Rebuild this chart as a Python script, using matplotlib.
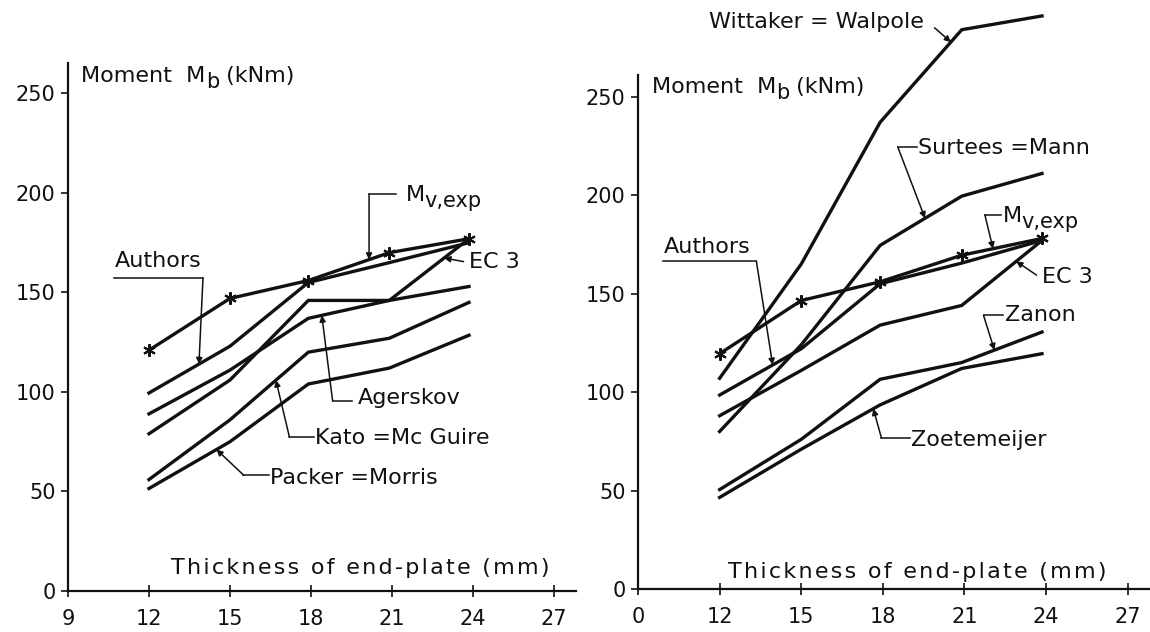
import matplotlib
import numpy as np

matplotlib.use("Agg")
import matplotlib.pyplot as plt  # noqa: E402

# ---- data (thickness in mm, moment in kNm) ----
thickness = [12, 15, 17.9, 20.9, 23.85]

# left panel
mv_exp_L = [121, 147, 156, 170, 177]
authors_L = [99.5, 123, 155, 165, 175]
agerskov_L = [89, 111, 137, 146, 153]
ec3_L = [79, 106, 146, 146, 177]
kato_L = [56, 86, 120, 127, 145]
packer_L = [51.5, 75, 104, 112, 128.5]

# right panel
wittaker_R = [107, 165, 237, 284, 291]
surtees_R = [80, 124, 174.5, 199.5, 211]
mv_exp_R = [119.5, 146.5, 156, 169.5, 178]
authors_R = [98.5, 122, 155, 165.5, 177]
ec3_R = [88, 111, 134, 144, 177]
zanon_R = [50.5, 76, 106.5, 115, 130.5]
zoetemeijer_R = [46.5, 71, 93.5, 112, 119.5]

y_ticks = [0, 50, 100, 150, 200, 250]
x_ticks = [9, 12, 15, 18, 21, 24, 27]
x_labels_L = ["9", "12", "15", "18", "21", "24", "27"]
x_labels_R = ["0", "12", "15", "18", "21", "24", "27"]

INK = "#111111"
LW = 2.4
FS = 16
HS = "\u200a"  # hair space for the spaced-out axis caption


def spaced(s):
    return HS.join(s)


def style_axes(ax, xlim, ylim, xlabels):
    ax.set_xlim(*xlim)
    ax.set_ylim(*ylim)
    ax.spines[["top", "right"]].set_visible(False)
    ax.spines[["left", "bottom"]].set_linewidth(1.6)
    ax.spines[["left", "bottom"]].set_color(INK)
    ax.set_xticks(x_ticks)
    ax.set_xticklabels(xlabels)
    ax.set_yticks(y_ticks)
    ax.tick_params(axis="x", direction="inout", length=8, width=1.2,
                   labelsize=15, pad=9, colors=INK)
    ax.tick_params(axis="y", direction="out", length=5, width=1.2,
                   labelsize=15, pad=4, colors=INK)
    ax.patch.set_alpha(0)


def curve(ax, ys, star=False):
    kw = dict(color=INK, lw=LW, solid_joinstyle="miter", clip_on=False)
    if star:
        kw.update(marker=(6, 2, 0), markersize=9, markeredgewidth=1.5,
                  markeredgecolor=INK)
    ax.plot(thickness, ys, **kw)


def leader(ax, pts, tip_x, ys):
    """Polyline from a label to a point on a curve, small arrow at the end."""
    tip = (tip_x, float(np.interp(tip_x, thickness, ys)))
    if len(pts) > 1:
        ax.plot([p[0] for p in pts], [p[1] for p in pts], color=INK, lw=1.1,
                clip_on=False)
    ax.annotate("", xy=tip, xytext=pts[-1],
                arrowprops=dict(arrowstyle="-|>", color=INK, lw=1.1,
                                mutation_scale=9, shrinkA=0, shrinkB=0),
                annotation_clip=False)


def label(ax, x, y, s, **kw):
    return ax.text(x, y, s, fontsize=FS, color=INK, ha="left", va="center",
                   clip_on=False, **kw)


def subscripted(ax, x, y, main, sub, tail="", drop=4.5, size=15):
    """Label with a large, lowered subscript the way the drawing letters it."""
    t = label(ax, x, y, main)
    s = ax.annotate(sub, xy=(1, 0), xycoords=t, xytext=(0, -drop),
                    textcoords="offset points", fontsize=size, color=INK,
                    ha="left", va="bottom", annotation_clip=False)
    if tail:
        ax.annotate(tail, xy=(1, 0), xycoords=s, xytext=(0, drop),
                    textcoords="offset points", fontsize=FS, color=INK,
                    ha="left", va="bottom", annotation_clip=False)


fig = plt.figure(figsize=(11.5, 6.32), dpi=100)
axL = fig.add_axes([0.0591, 0.0649, 0.4417, 0.8354])
axR = fig.add_axes([0.5548, 0.068, 0.4452, 0.8133])

style_axes(axL, (9, 27.81), (0, 265.3), x_labels_L)
style_axes(axR, (9, 27.82), (0, 261), x_labels_R)

# ---- left panel ----
for ys in (authors_L, agerskov_L, ec3_L, kato_L, packer_L):
    curve(axL, ys)
curve(axL, mv_exp_L, star=True)

subscripted(axL, 9.5, 259, "Moment  M", "b", " (kNm)")
label(axL, 12.8, 11.5, spaced("Thickness of end-plate (mm)"))

subscripted(axL, 21.5, 199, "M", "v,exp")
leader(axL, [(21.15, 199.5), (20.15, 199.5)], 20.15, mv_exp_L)

label(axL, 23.85, 165.5, "EC 3")
leader(axL, [(23.65, 165.5)], 22.93, ec3_L)

label(axL, 10.75, 166, "Authors")
leader(axL, [(10.7, 157.3), (14.0, 157.3)], 13.85, authors_L)

label(axL, 19.75, 97, "Agerskov")
leader(axL, [(19.5, 95.5), (18.8, 95.5)], 18.4, agerskov_L)

label(axL, 18.15, 77, "Kato =Mc Guire")
leader(axL, [(18.1, 77.4), (17.2, 77.4)], 16.7, kato_L)

label(axL, 16.5, 57, "Packer =Morris")
leader(axL, [(16.45, 58.3), (15.5, 58.3)], 14.5, packer_L)

# ---- right panel ----
for ys in (wittaker_R, surtees_R, authors_R, ec3_R, zanon_R, zoetemeijer_R):
    curve(axR, ys)
curve(axR, mv_exp_R, star=True)

subscripted(axR, 9.5, 255, "Moment  M", "b", " (kNm)")
label(axR, 12.3, 8.5, spaced("Thickness of end-plate (mm)"))

label(axR, 11.6, 288, "Wittaker = Walpole")
leader(axR, [(19.9, 285)], 20.5, wittaker_R)

label(axR, 19.3, 224, "Surtees =Mann")
leader(axR, [(19.25, 224.4), (18.55, 224.4)], 19.55, surtees_R)

subscripted(axR, 22.4, 189.5, "M", "v,exp")
leader(axR, [(22.35, 190), (21.75, 190)], 22.05, mv_exp_R)

label(axR, 23.85, 158.5, "EC 3")
leader(axR, [(23.65, 159.4)], 22.9, ec3_R)

label(axR, 9.95, 173.5, "Authors")
leader(axR, [(9.9, 166.5), (13.35, 166.5)], 13.95, authors_R)

label(axR, 22.5, 139, "Zanon")
leader(axR, [(22.4, 139), (21.7, 139)], 22.1, zanon_R)

label(axR, 19.05, 75.5, "Zoetemeijer")
leader(axR, [(19.0, 76.6), (17.95, 76.6)], 17.65, zoetemeijer_R)

fig.savefig("out.png", dpi=100)
